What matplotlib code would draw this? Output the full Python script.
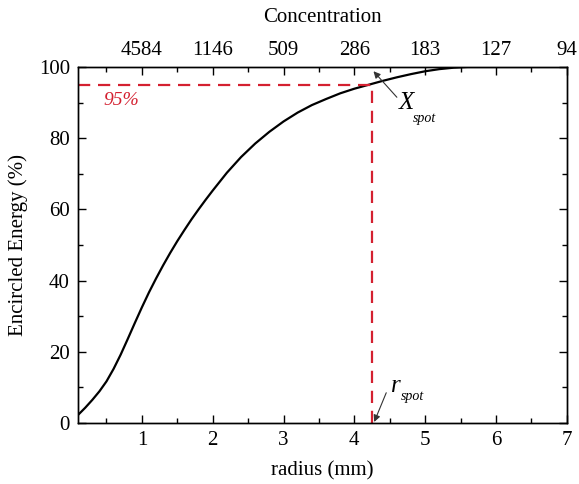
import numpy as np
import matplotlib.pyplot as plt
from matplotlib.ticker import MultipleLocator

plt.rcParams['font.family'] = ['Liberation Serif', 'DejaVu Serif']
plt.rcParams['mathtext.fontset'] = 'custom'
plt.rcParams['mathtext.it'] = 'Liberation Serif:italic'
plt.rcParams['mathtext.rm'] = 'Liberation Serif'

# Encircled energy curve
radius = [0.1, 0.2, 0.3, 0.4, 0.5, 0.6, 0.7, 0.8, 0.9, 1.0, 1.1, 1.2, 1.3, 1.4,
          1.5, 1.6, 1.7, 1.8, 1.9, 2.0, 2.2, 2.4, 2.6, 2.8, 3.0, 3.2, 3.4, 3.6,
          3.8, 4.0, 4.2, 4.4, 4.6, 4.8, 5.0, 5.2, 5.4, 5.6, 6.0, 7.0]
energy = [2.3, 4.3, 6.5, 8.9, 11.7, 15.2, 19.2, 23.6, 28.1, 32.5, 36.7, 40.6, 44.3, 47.8,
          51.1, 54.2, 57.2, 60.0, 62.7, 65.3, 70.3, 74.7, 78.5, 81.8, 84.7, 87.2, 89.3, 91.0,
          92.6, 93.9, 95.0, 96.1, 97.1, 98.0, 98.8, 99.4, 99.8, 100.0, 100.0, 100.0]

top_ticks = [1, 2, 3, 4, 5, 6, 7]
top_labels = ['4584', '1146', '509', '286', '183', '127', '94']

r_spot = 4.25
e_spot = 95

fig = plt.figure(figsize=(5.79, 4.84), dpi=100)
ax = fig.add_axes([0.135, 0.126, 0.844, 0.7356])

ax.plot(radius, energy, color='black', lw=1.6)
red = '#d42030'
ax.plot([0.1, r_spot], [e_spot, e_spot], color=red, lw=1.6, ls=(0, (5.5, 3.5)))
ax.plot([r_spot, r_spot], [0, e_spot], color=red, lw=1.6, ls=(0, (5.5, 3.5)))

ax.text(0.45, 90.5, '95%', color=red, fontsize=14, style='italic', ha='left', va='center')

ax.annotate('', xy=(4.27, 98.8), xytext=(4.6, 91.5),
            arrowprops=dict(arrowstyle='-|>', color='#333333', lw=0.8,
                            mutation_scale=10, shrinkA=0, shrinkB=0))
ax.text(4.62, 90.0, r'$X$', fontsize=18, ha='left', va='center')
ax.text(4.83, 85.6, 'spot', fontsize=10, style='italic', ha='left', va='center')

ax.annotate('', xy=(4.28, 0.3), xytext=(4.45, 8.5),
            arrowprops=dict(arrowstyle='-|>', color='#333333', lw=0.8,
                            mutation_scale=10, shrinkA=0, shrinkB=0))
ax.text(4.5, 10.5, r'$r$', fontsize=18, ha='left', va='center')
ax.text(4.66, 7.4, 'spot', fontsize=10, style='italic', ha='left', va='center')

ax.set_xlim(0.1, 7)
ax.set_ylim(0, 100)
ax.xaxis.set_major_locator(MultipleLocator(1))
ax.xaxis.set_minor_locator(MultipleLocator(0.5))
ax.yaxis.set_major_locator(MultipleLocator(20))
ax.yaxis.set_minor_locator(MultipleLocator(10))
ax.tick_params(which='both', direction='in', right=True, labelsize=15, width=1.0, pad=6)
ax.tick_params(which='major', length=6)
ax.tick_params(which='minor', length=3.5)
ax.set_xlabel('radius (mm)', fontsize=15, labelpad=8)
ax.set_ylabel('Encircled Energy (%)', fontsize=15, labelpad=8)

ax2 = ax.twiny()
ax2.set_xlim(ax.get_xlim())
ax2.set_xticks(top_ticks)
ax2.set_xticklabels(top_labels)
ax2.xaxis.set_minor_locator(MultipleLocator(0.5))
ax2.tick_params(which='both', direction='in', labelsize=15, width=1.0, pad=5)
ax2.tick_params(which='major', length=6)
ax2.tick_params(which='minor', length=3.5)
ax2.set_xlabel('Concentration', fontsize=15, labelpad=14)

for a in (ax, ax2):
    for s in a.spines.values():
        s.set_linewidth(1.0)

fig.savefig('out.png', dpi=100)
